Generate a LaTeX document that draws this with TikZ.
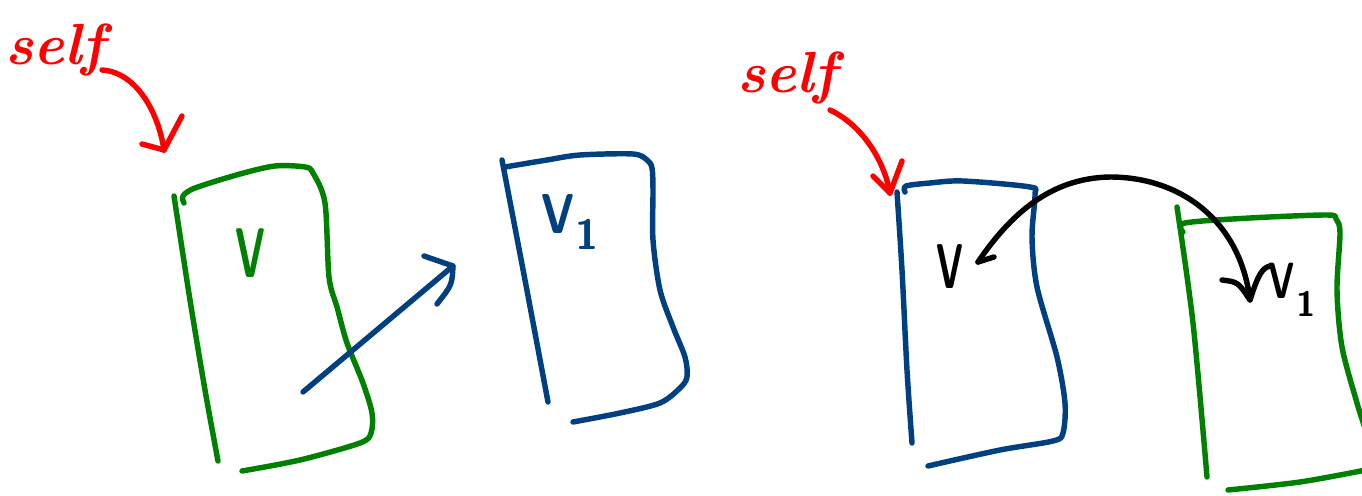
\documentclass[tikz,border=0pt]{standalone}
\usepackage{graphicx}
\definecolor{inkred}{RGB}{255,0,0}
\definecolor{inkgreen}{RGB}{0,128,0}
\definecolor{inkblue}{RGB}{0,64,128}
\begin{document}
\begin{tikzpicture}[x=0.2mm,y=-0.2mm,
  ink/.style={line width=3.1pt,line cap=round,line join=round},
  hand/.style={inner sep=0pt},
  selftext/.style={inner sep=0pt,text=inkred,font=\bfseries\itshape\fontsize{33}{33}\selectfont}]
\useasboundingbox (0,0) rectangle (1362,496);
\clip (0,0) rectangle (1362,496);

% ---------- left box (green) ----------
\draw[ink,inkgreen] plot[smooth,tension=0.5] coordinates {(174,196) (190,300) (205,390) (218,461)};
\draw[ink,inkgreen] plot[smooth,tension=0.5] coordinates {(184,203) (183,196) (195,188) (240,174) (275,166) (305,167) (313,173) (325,203) (329,277) (337,307) (347,343) (363,383) (372,413) (371,433) (360,443) (300,460) (242,471)};
\node[hand,text=inkgreen,font=\sffamily\bfseries\fontsize{40}{40}\selectfont] (v1) at (250,253) {\scalebox{0.58}[1]{V}};

% ---------- middle box (blue) ----------
\draw[ink,inkblue] plot[smooth,tension=0.5] coordinates {(502,160) (525,280) (548,402)};
\draw[ink,inkblue] plot[smooth,tension=0.5] coordinates {(505,167) (547,160) (580,155) (633,154) (647,160) (652,168) (653,190) (653,240) (660,290) (673,327) (685,357) (687,377) (680,388) (660,403) (620,413) (573,422)};
\node[hand,text=inkblue,font=\sffamily\bfseries\fontsize{32}{32}\selectfont] (v2) at (570,222) {\scalebox{0.8}[1]{V}\kern1pt\raisebox{-0.3em}{\fontsize{24}{24}\selectfont 1}};

% ---------- right box (blue) ----------
\draw[ink,inkblue] plot[smooth,tension=0.5] coordinates {(897,192) (902,270) (907,370) (912,443)};
\draw[ink,inkblue] plot[smooth,tension=0.5] coordinates {(905,192) (906,186) (930,183) (963,181) (1030,187) (1035,195) (1032,237) (1037,287) (1057,357) (1065,403) (1063,433) (1053,441) (1000,450) (928,466)};
\node[hand,text=black,font=\sffamily\bfseries\fontsize{36}{36}\selectfont] (v3) at (950,267) {\scalebox{0.58}[1]{V}};

% ---------- far right box (green) ----------
\draw[ink,inkgreen] plot[smooth,tension=0.5] coordinates {(1177,207) (1193,323) (1207,477)};
\draw[ink,inkgreen] plot[smooth,tension=0.5] coordinates {(1183,232) (1185,223) (1250,218) (1327,215) (1336,219) (1340,233) (1337,290) (1342,347) (1357,403) (1364,425) (1370,445)};
\draw[ink,inkgreen] plot[smooth,tension=0.5] coordinates {(1228,490) (1300,482) (1366,470)};
\node[hand,text=black,font=\sffamily\bfseries\fontsize{29}{29}\selectfont] (v4) at (1292,290) {\scalebox{0.7}[1]{V}\kern1pt\raisebox{-0.35em}{\fontsize{20}{20}\selectfont 1}};

% ---------- self labels ----------
\node[selftext] (self1) at (55,50) {self};
\node[selftext] (self2) at (787,78) {self};

% ---------- red arrows ----------
\coordinate (r1s) at (102,70);
\coordinate (r1t) at (164,150);
\draw[ink,inkred] (r1s) .. controls (135,72) and (158,110) .. (r1t);
\draw[ink,inkred] (r1t) -- ++(-22,-6);
\draw[ink,inkred] (r1t) -- ++(18,-34);

\coordinate (r2s) at (830,110);
\coordinate (r2t) at (890,193);
\draw[ink,inkred] (r2s) .. controls (862,125) and (884,160) .. (r2t);
\draw[ink,inkred] (r2t) -- (873,176);
\draw[ink,inkred] (r2t) -- (902,161);

% ---------- blue straight arrow ----------
\coordinate (b1s) at (303,392);
\coordinate (b1t) at (453,266);
\draw[ink,inkblue] (b1s) -- (b1t);
\draw[ink,inkblue] (424,256) -- (b1t) .. controls (452,285) .. (437,304);

% ---------- black double arrow ----------
\coordinate (k1) at (978,262);
\coordinate (k2) at (1250,300);
\draw[ink,black] (k1) .. controls (1010,215) and (1050,178) .. (1110,177)
                      .. controls (1180,177) and (1240,220) .. (k2);
\draw[ink,black] (k1) -- (994,257);
\draw[ink,black] (1222,280) .. controls (1238,282) .. (k2) .. controls (1258,275) and (1262,268) .. (1270,266);
\end{tikzpicture}
\end{document}
